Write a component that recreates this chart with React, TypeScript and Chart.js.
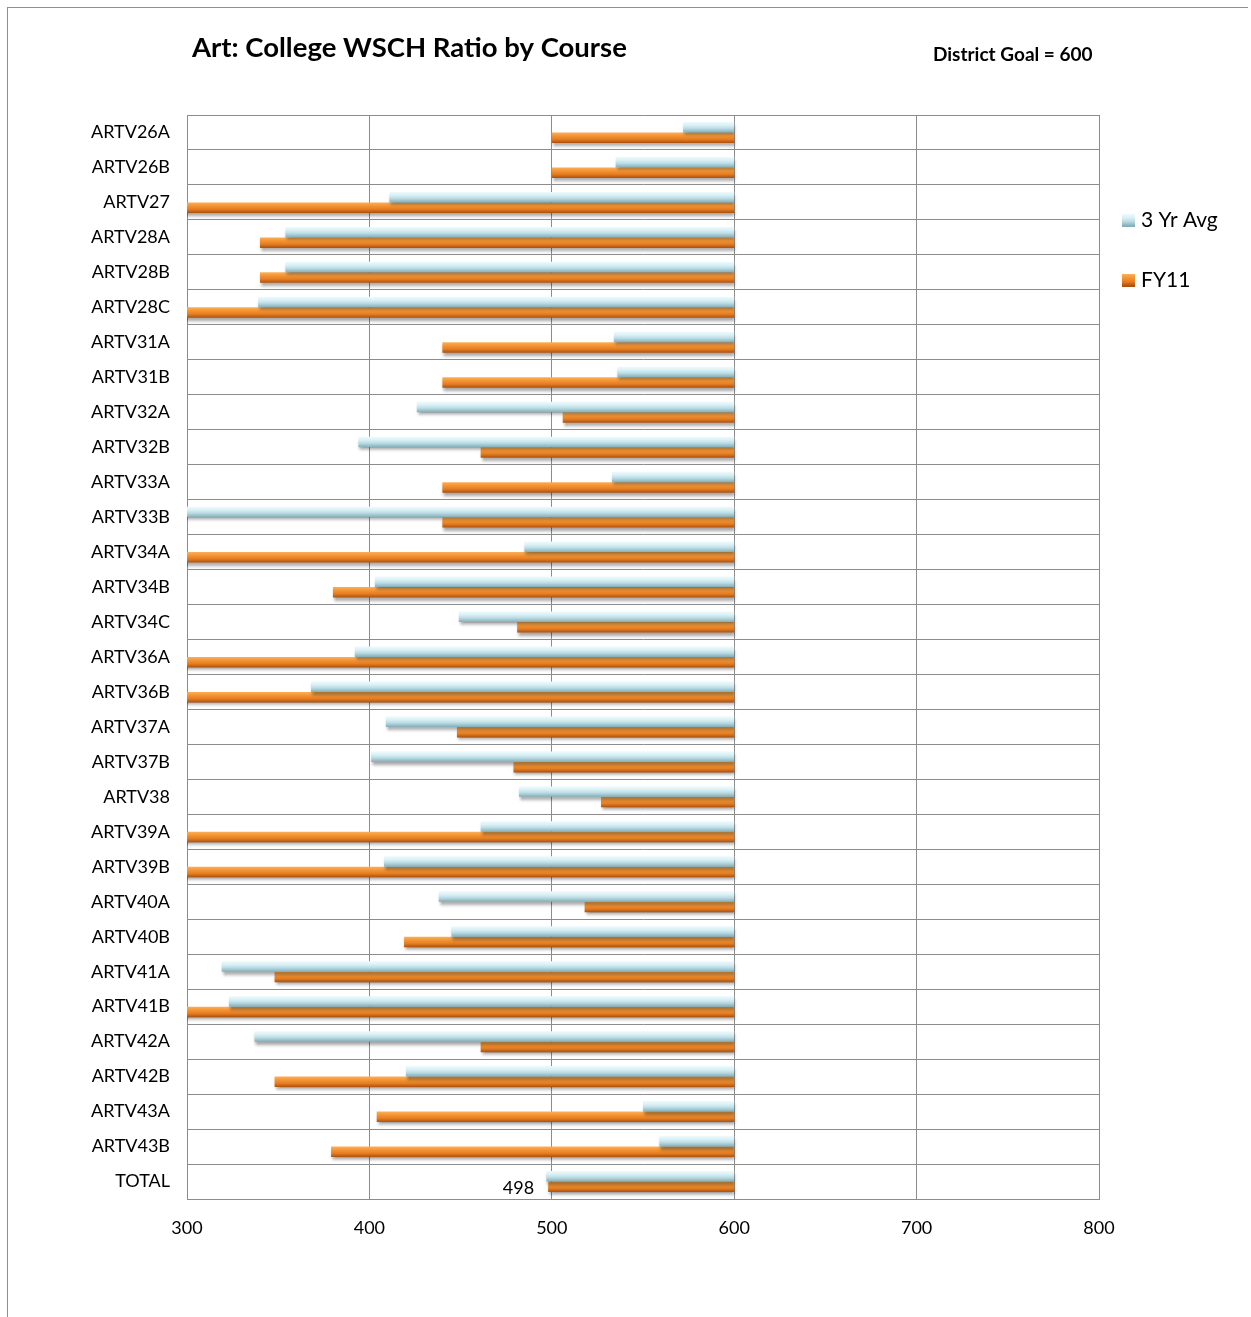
import React, { useEffect, useRef } from "react";
import { Chart, registerables } from "chart.js";

Chart.register(...registerables);

const courses = [
  "ARTV26A", "ARTV26B", "ARTV27", "ARTV28A", "ARTV28B", "ARTV28C",
  "ARTV31A", "ARTV31B", "ARTV32A", "ARTV32B", "ARTV33A", "ARTV33B",
  "ARTV34A", "ARTV34B", "ARTV34C", "ARTV36A", "ARTV36B", "ARTV37A",
  "ARTV37B", "ARTV38", "ARTV39A", "ARTV39B", "ARTV40A", "ARTV40B",
  "ARTV41A", "ARTV41B", "ARTV42A", "ARTV42B", "ARTV43A", "ARTV43B", "TOTAL",
];

const avg3Yr = [
  572, 535, 411, 354, 354, 339,
  534, 536, 426, 394, 533, 285,
  485, 403, 449, 392, 368, 409,
  401, 482, 461, 408, 438, 445,
  319, 323, 337, 420, 550, 559, 497,
];

const fy11 = [
  500, 500, 270, 340, 340, 275,
  440, 440, 506, 461, 440, 440,
  280, 380, 481, 265, 278, 448,
  479, 527, 272, 276, 518, 419,
  348, 268, 461, 348, 404, 379, 498,
];

const districtGoal = 600;
const xTicks = [300, 400, 500, 600, 700, 800];
const seriesNames = ["3 Yr Avg", "FY11"];
const labeledIndex = 30;

const FONT = "Lato, 'Open Sans', sans-serif";

const blueStops: [number, string][] = [
  [0, "#eefafc"], [0.3, "#daf1f6"], [0.6, "#bcdde5"], [1, "#84aeb8"],
];
const orangeStops: [number, string][] = [
  [0, "#fbb058"], [0.3, "#f59636"], [0.65, "#e57d21"], [1, "#ab500f"],
];

function makeGrad(ctx: CanvasRenderingContext2D, y0: number, y1: number, stops: [number, string][]) {
  const g = ctx.createLinearGradient(0, y0, 0, y1);
  stops.forEach(([o, c]) => g.addColorStop(o, c));
  return g;
}

const CAT_PCT = 0.6;

function barFill(stops: [number, string][], which: number, fallback: string) {
  return (c: any) => {
    const chart = c.chart;
    const ys = chart.scales && chart.scales.y;
    if (!ys || c.dataIndex === undefined) return fallback;
    const row = (ys.bottom - ys.top) / courses.length;
    const yc = ys.getPixelForValue(c.dataIndex);
    if (!isFinite(row) || !isFinite(yc) || row <= 0) return fallback;
    const h = (row * CAT_PCT) / 2;
    const y0 = which === 0 ? yc - h : yc;
    return makeGrad(chart.ctx, y0, y0 + h, stops);
  };
}

const shadowPlugin = {
  id: "barShadow",
  beforeDatasetDraw(chart: any) {
    const ctx = chart.ctx;
    ctx.save();
    ctx.shadowColor = "rgba(0,0,0,0.35)";
    ctx.shadowBlur = 3;
    ctx.shadowOffsetX = 1;
    ctx.shadowOffsetY = 3;
  },
  afterDatasetDraw(chart: any) {
    chart.ctx.restore();
  },
};

const decorPlugin = {
  id: "decor",
  afterDraw(chart: any) {
    const ctx = chart.ctx as CanvasRenderingContext2D;
    ctx.save();
    ctx.fillStyle = "#000";
    ctx.textBaseline = "middle";
    ctx.textAlign = "left";
    ctx.font = `bold 27.5px ${FONT}`;
    ctx.fillText("Art: College WSCH Ratio by Course", 184, 40);
    ctx.font = `bold 19px ${FONT}`;
    ctx.fillText(`District Goal = ${districtGoal}`, 925, 47);

    const items = [
      { name: seriesNames[0], stops: blueStops, y: 212 },
      { name: seriesNames[1], stops: orangeStops, y: 272 },
    ];
    ctx.font = `21px ${FONT}`;
    items.forEach((it) => {
      ctx.fillStyle = makeGrad(ctx, it.y - 6, it.y + 6, it.stops);
      ctx.fillRect(1114, it.y - 6, 13, 13);
      ctx.fillStyle = "#000";
      ctx.fillText(it.name, 1133, it.y);
    });

    const meta = chart.getDatasetMeta(1);
    const el = meta.data[labeledIndex];
    if (el) {
      const xs = chart.scales.x;
      const v = fy11[labeledIndex];
      ctx.font = `18px ${FONT}`;
      ctx.textAlign = "right";
      ctx.fillText(String(v), xs.getPixelForValue(v) - 14, el.y + 1);
    }
    ctx.restore();
  },
};

export default function App() {
  const ref = useRef<HTMLCanvasElement | null>(null);
  useEffect(() => {
    if (!ref.current) return;
    const chart = new Chart(ref.current, {
      type: "bar",
      data: {
        labels: courses,
        datasets: [
          {
            label: seriesNames[0],
            data: avg3Yr.map((v) => [districtGoal, v]) as any,
            backgroundColor: barFill(blueStops, 0, "#cde9ef"),
            borderWidth: 0,
            categoryPercentage: CAT_PCT,
            barPercentage: 1,
          },
          {
            label: seriesNames[1],
            data: fy11.map((v) => [districtGoal, v]) as any,
            backgroundColor: barFill(orangeStops, 1, "#ee8a2a"),
            borderWidth: 0,
            categoryPercentage: CAT_PCT,
            barPercentage: 1,
          },
        ],
      },
      options: {
        indexAxis: "y",
        responsive: false,
        animation: false,
        devicePixelRatio: 1,
        layout: { padding: { top: 107, right: 149, left: 0, bottom: 0 } },
        plugins: {
          legend: { display: false },
          title: { display: false },
          tooltip: { enabled: false },
        },
        scales: {
          x: {
            type: "linear",
            min: 300,
            max: 800,
            afterBuildTicks: (s: any) => {
              s.ticks = xTicks.map((v) => ({ value: v }));
            },
            afterFit: (s: any) => {
              s.height = 1309 - 1191;
            },
            grid: { color: "#8c8c8c", lineWidth: 1, drawTicks: false },
            border: { color: "#8c8c8c", width: 1 },
            ticks: {
              padding: 18,
              color: "#000",
              font: { family: FONT, size: 18 },
            },
          },
          y: {
            type: "category",
            afterFit: (s: any) => {
              s.width = 179;
            },
            grid: { color: "#8c8c8c", lineWidth: 1, drawTicks: false, offset: true },
            border: { color: "#8c8c8c", width: 1 },
            ticks: {
              padding: 17,
              color: "#000",
              font: { family: FONT, size: 18 },
              autoSkip: false,
            },
          },
        },
      },
      plugins: [shadowPlugin, decorPlugin],
    });
    return () => chart.destroy();
  }, []);

  return (
    <div
      style={{
        position: "absolute",
        left: 7,
        top: 7,
        borderLeft: "1px solid #8f8f8f",
        borderTop: "1px solid #8f8f8f",
        width: 1240,
        height: 1309,
        background: "#fff",
        overflow: "hidden",
      }}
    >
      <canvas ref={ref} width={1240} height={1309} style={{ display: "block", width: 1240, height: 1309 }} />
    </div>
  );
}
